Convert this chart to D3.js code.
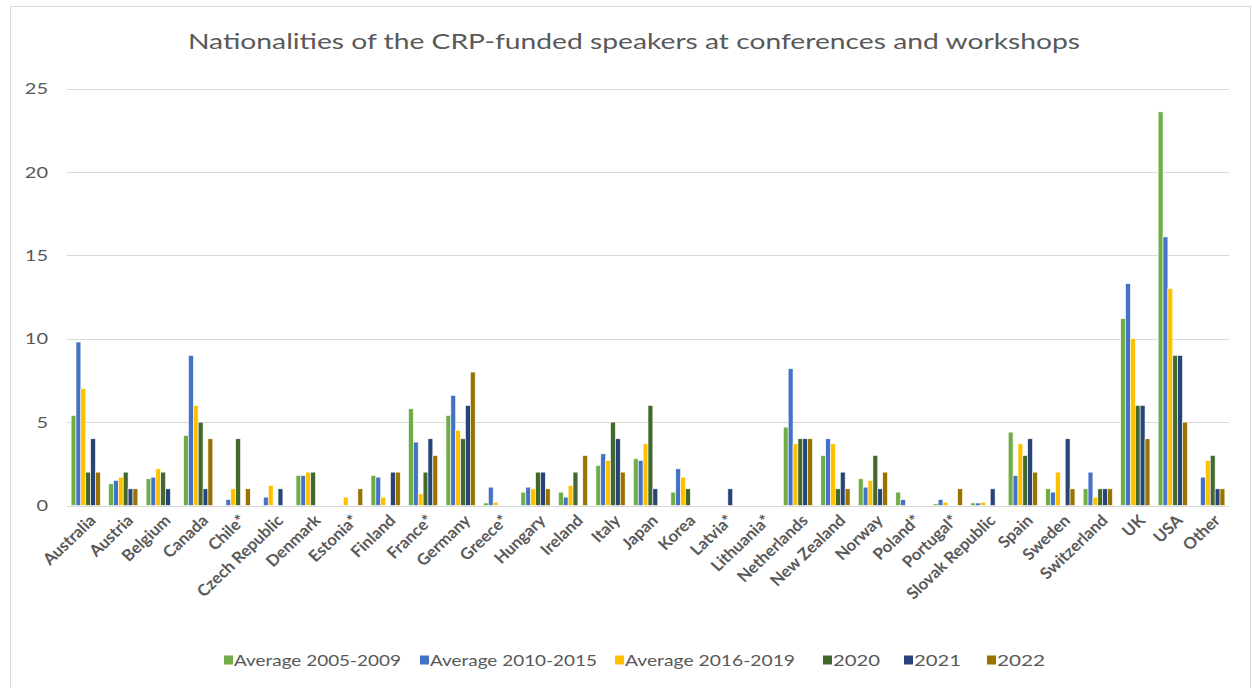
<!DOCTYPE html>
<html>
<head>
<meta charset="utf-8">
<script src="https://cdn.jsdelivr.net/npm/d3@7"></script>
<style>
  html, body { margin: 0; padding: 0; background: #ffffff; }
  svg { display: block; }
</style>
</head>
<body>
<svg id="chart" width="1252" height="688"></svg>
<script>
const categories = ["Australia","Austria","Belgium","Canada","Chile*","Czech Republic","Denmark","Estonia*","Finland","France*","Germany","Greece*","Hungary","Ireland","Italy","Japan","Korea","Latvia*","Lithuania*","Netherlands","New Zealand","Norway","Poland*","Portugal*","Slovak Republic","Spain","Sweden","Switzerland","UK","USA","Other"];

const seriesNames = ["Average 2005-2009","Average 2010-2015","Average 2016-2019","2020","2021","2022"];
const seriesColors = ["#70AD47","#4472C4","#FFC000","#43682B","#264478","#997300"];

const avg2005_2009 = [5.4,1.3,1.6,4.2,0,0,1.8,0,1.8,5.8,5.4,0.15,0.8,0.8,2.4,2.8,0.8,0,0,4.7,3,1.6,0.8,0.1,0.15,4.4,1,1,11.2,23.6,0];
const avg2010_2015 = [9.8,1.5,1.7,9,0.35,0.5,1.8,0,1.7,3.8,6.6,1.1,1.1,0.5,3.1,2.7,2.2,0,0,8.2,4,1.1,0.35,0.35,0.15,1.8,0.8,2,13.3,16.1,1.7];
const avg2016_2019 = [7,1.7,2.2,6,1,1.2,2,0.5,0.5,0.7,4.5,0.2,1,1.2,2.7,3.7,1.7,0,0,3.7,3.7,1.5,0,0.2,0.2,3.7,2,0.5,10,13,2.7];
const y2020 = [2,2,2,5,4,0,2,0,0,2,4,0,2,2,5,6,1,0,0,4,1,3,0,0,0,3,0,1,6,9,3];
const y2021 = [4,1,1,1,0,1,0,0,2,4,6,0,2,0,4,1,0,1,0,4,2,1,0,0,1,4,4,1,6,9,1];
const y2022 = [2,1,0,4,1,0,0,1,2,3,8,0,1,3,2,0,0,0,0,4,1,2,0,1,0,2,1,1,4,5,1];

const yTicks = [0,5,10,15,20,25];
const titleText = "Nationalities of the CRP-funded speakers at conferences and workshops";

const seriesValues = [avg2005_2009, avg2010_2015, avg2016_2019, y2020, y2021, y2022];

const svg = d3.select("#chart");
const plot = { left: 67, right: 1229, top: 88.5, bottom: 505.5 };
const font = "Lato, 'Open Sans', sans-serif";
const textColor = "#595959";
const sx = 1.25;   // horizontal stretch of the original picture's text
const sxLab = 1.05;

// chart border
svg.append("rect")
  .attr("x", 10.5).attr("y", 6.5)
  .attr("width", 1240).attr("height", 700)
  .attr("fill", "#fff").attr("stroke", "#d9d9d9").attr("stroke-width", 1);

const x0 = d3.scaleBand().domain(categories).range([plot.left, plot.right]).paddingInner(0.22).paddingOuter(0.11);
const x1 = d3.scaleBand().domain(seriesNames).range([0, x0.bandwidth()]).padding(0);
const y = d3.scaleLinear().domain([0, 25]).range([plot.bottom, plot.top]);

// gridlines
svg.append("g").selectAll("line").data(yTicks).join("line")
  .attr("x1", plot.left).attr("x2", plot.right)
  .attr("y1", d => Math.round(y(d)) + 0.5).attr("y2", d => Math.round(y(d)) + 0.5)
  .attr("stroke", "#d9d9d9").attr("stroke-width", 1.2);

// y axis labels
const yAxis = d3.axisLeft(y).tickValues(yTicks).tickSize(0).tickPadding(0);
const yg = svg.append("g").call(yAxis);
yg.select(".domain").remove();
yg.selectAll(".tick").attr("transform", d => `translate(48,${y(d)})`);
yg.selectAll("text")
  .attr("x", 0).attr("dy", "0.35em")
  .attr("transform", `scale(${sx},1)`)
  .attr("font-family", font).attr("font-size", 16).attr("fill", textColor);

// bars
const rows = categories.map((c, i) => ({ cat: c, vals: seriesNames.map((s, j) => ({ s, v: seriesValues[j][i], color: seriesColors[j] })) }));
const groups = svg.append("g").selectAll("g").data(rows).join("g")
  .attr("transform", d => `translate(${x0(d.cat)},0)`);
groups.selectAll("rect").data(d => d.vals.filter(e => e.v > 0)).join("rect")
  .attr("x", d => x1(d.s))
  .attr("width", x1.bandwidth())
  .attr("y", d => y(d.v))
  .attr("height", d => y(0) - y(d.v))
  .attr("fill", d => d.color)
  .attr("stroke", "#ffffff").attr("stroke-width", 0.6);

// x axis labels
const xAxis = d3.axisBottom(x0).tickSize(0).tickPadding(0);
const xg = svg.append("g").attr("transform", `translate(0,${plot.bottom})`).call(xAxis);
xg.select(".domain").remove();
xg.selectAll("text")
  .attr("font-family", font).attr("font-size", 16).attr("font-weight", "bold").attr("fill", textColor)
  .attr("text-anchor", "end")
  .attr("x", 0).attr("y", 0).attr("dy", 0)
  .attr("transform", `translate(11,16) scale(${sxLab},1) rotate(-45)`);

// title
svg.append("text")
  .attr("x", 188).attr("y", 49)
  .attr("font-family", font).attr("font-size", 20.5).attr("fill", textColor)
  .attr("textLength", 892).attr("lengthAdjust", "spacingAndGlyphs")
  .text(titleText);

// legend
const legendX = [224, 420, 615, 823, 904, 987];
const legendW = [167, 167, 170, 47, 47, 48];
const legend = svg.append("g").selectAll("g").data(seriesNames).join("g")
  .attr("transform", (d, i) => `translate(${legendX[i]},660)`);
legend.append("rect").attr("x", 0).attr("y", -4.5).attr("width", 9).attr("height", 9)
  .attr("fill", (d, i) => seriesColors[i]);
legend.append("text").attr("x", 10).attr("y", 0).attr("dy", "0.35em")
  .attr("font-family", font).attr("font-size", 16).attr("fill", textColor)
  .attr("textLength", (d, i) => legendW[i]).attr("lengthAdjust", "spacingAndGlyphs")
  .text(d => d);
</script>
</body>
</html>
